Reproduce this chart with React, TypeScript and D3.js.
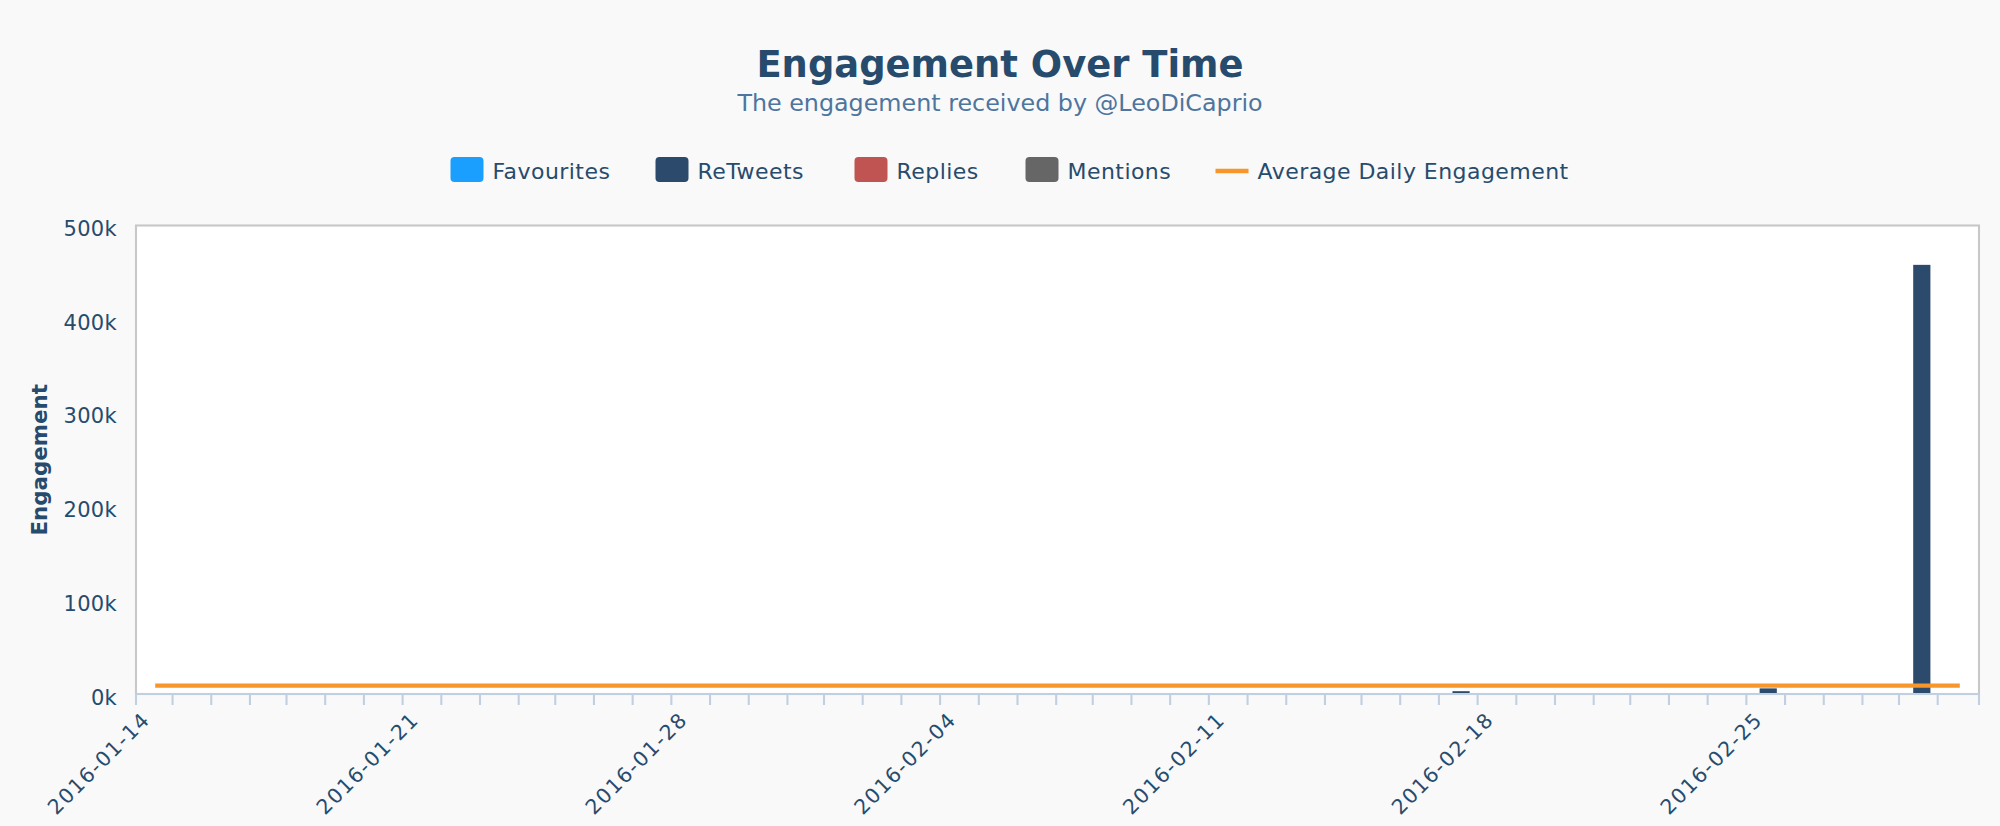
import React from 'react';
import * as d3 from 'd3';

const categories = [
  '2016-01-14', '2016-01-15', '2016-01-16', '2016-01-17', '2016-01-18', '2016-01-19', '2016-01-20', '2016-01-21',
  '2016-01-22', '2016-01-23', '2016-01-24', '2016-01-25', '2016-01-26', '2016-01-27', '2016-01-28', '2016-01-29',
  '2016-01-30', '2016-01-31', '2016-02-01', '2016-02-02', '2016-02-03', '2016-02-04', '2016-02-05', '2016-02-06',
  '2016-02-07', '2016-02-08', '2016-02-09', '2016-02-10', '2016-02-11', '2016-02-12', '2016-02-13', '2016-02-14',
  '2016-02-15', '2016-02-16', '2016-02-17', '2016-02-18', '2016-02-19', '2016-02-20', '2016-02-21', '2016-02-22',
  '2016-02-23', '2016-02-24', '2016-02-25', '2016-02-26', '2016-02-27', '2016-02-28', '2016-02-29', '2016-03-01',
];

const favourites = [
  0, 0, 0, 0, 0, 0, 0, 0, 0, 0, 0, 0, 0, 0, 0, 0, 0, 0, 0, 0, 0, 0, 0, 0,
  0, 0, 0, 0, 0, 0, 0, 0, 0, 0, 0, 0, 0, 0, 0, 0, 0, 0, 0, 0, 0, 0, 0, 0,
];
const retweets = [
  0, 0, 0, 0, 0, 0, 0, 0, 0, 0, 0, 0, 0, 0, 0, 0, 0, 0, 0, 0, 0, 0, 0, 0,
  0, 0, 0, 0, 0, 0, 0, 0, 0, 0, 3000, 0, 0, 0, 0, 0, 0, 0, 6000, 0, 0, 0, 458000, 0,
];
const replies = [
  0, 0, 0, 0, 0, 0, 0, 0, 0, 0, 0, 0, 0, 0, 0, 0, 0, 0, 0, 0, 0, 0, 0, 0,
  0, 0, 0, 0, 0, 0, 0, 0, 0, 0, 0, 0, 0, 0, 0, 0, 0, 0, 0, 0, 0, 0, 0, 0,
];
const mentions = [
  0, 0, 0, 0, 0, 0, 0, 0, 0, 0, 0, 0, 0, 0, 0, 0, 0, 0, 0, 0, 0, 0, 0, 0,
  0, 0, 0, 0, 0, 0, 0, 0, 0, 0, 0, 0, 0, 0, 0, 0, 0, 0, 0, 0, 0, 0, 0, 0,
];
const averageDaily = 8900;

const seriesNames = ['Favourites', 'ReTweets', 'Replies', 'Mentions'];
const seriesColors = ['#1a9fff', '#2c4a6b', '#c05452', '#666666'];
const lineName = 'Average Daily Engagement';
const lineColor = '#f7962b';
const yTicks = [0, 100000, 200000, 300000, 400000, 500000];

const rows = categories.map((date, i) => ({
  date,
  Favourites: favourites[i],
  ReTweets: retweets[i],
  Replies: replies[i],
  Mentions: mentions[i],
}));

const width = 2000;
const height = 826;
const left = 136;
const right = 1979;
const top = 225.5;
const bottom = 694;
const barWidth = 17.2;
const font = '"DejaVu Sans", sans-serif';
const labelColor = '#274b6d';

// the source chart was 2.15x upscaled, so its ticks sit on whole source pixels
const sourceScale = 2.15;

// legend swatch left edges, in the order of the series and then the line
const legendX = [450.5, 655.5, 854.5, 1025.5, 1215.5];
const legendFont = { fontSize: 22, letterSpacing: 0.45, fill: labelColor };

export default function App() {
  const x = d3.scaleBand<string>().domain(categories).range([left, right]);
  const y = d3.scaleLinear().domain([0, 500000]).range([bottom, top]);
  const stack = d3.stack<any>().keys(seriesNames)(rows);

  const step = x.step();
  const tickPositions = d3.range(categories.length + 1).map((i) => {
    if (i === 0 || i === categories.length) return left + i * step;
    return left + Math.floor((i * step) / sourceScale - 0.5) * sourceScale;
  });

  const avgLine = d3
    .line<string>()
    .x((d) => (x(d) as number) + step / 2)
    .y(() => y(averageDaily));

  return (
    <svg
      width={width}
      height={height}
      style={{ position: 'absolute', left: 0, top: 0, display: 'block' }}
      fontFamily={font}
    >
      <rect width={width} height={height} fill="#f9f9f9" />

      <text x={1000} y={77} textAnchor="middle" fontSize={36.9} fontWeight="bold" fill={labelColor}>
        Engagement Over Time
      </text>
      <text x={1000} y={111} textAnchor="middle" fontSize={23.8} fill="#4d759e">
        The engagement received by @LeoDiCaprio
      </text>

      {seriesNames.map((name, i) => (
        <g key={name}>
          <rect x={legendX[i]} y={157} width={33} height={25} rx={4} fill={seriesColors[i]} />
          <text x={legendX[i] + 42} y={179} {...legendFont}>
            {name}
          </text>
        </g>
      ))}
      <line x1={legendX[4]} x2={legendX[4] + 33} y1={171} y2={171} stroke={lineColor} strokeWidth={4.3} />
      <text x={legendX[4] + 42} y={179} {...legendFont}>
        {lineName}
      </text>

      <rect x={left} y={top} width={right - left} height={bottom - top} fill="#fff" stroke="#c8c8c8" strokeWidth={2.1} />

      {stack.map((layer, i) => (
        <g key={layer.key} fill={seriesColors[i]}>
          {layer
            .filter((d) => d[1] > d[0])
            .map((d) => (
              <rect
                key={d.data.date}
                x={(x(d.data.date) as number) + (step - barWidth) / 2 + 0.4}
                y={y(d[1])}
                width={barWidth}
                height={y(d[0]) - y(d[1])}
              />
            ))}
        </g>
      ))}

      <path d={avgLine(categories) as string} fill="none" stroke={lineColor} strokeWidth={4.3} />

      <line x1={left} x2={right} y1={bottom} y2={bottom} stroke="#c0d0e0" strokeWidth={2.1} />
      {tickPositions.map((t, i) => (
        <line key={i} x1={t} x2={t} y1={bottom} y2={bottom + 11} stroke="#c0d0e0" strokeWidth={2.1} />
      ))}

      {categories.map((c, i) =>
        i % 7 === 0 ? (
          <text
            key={c}
            transform={`translate(${(x(c) as number) + step / 2 - 4},721) rotate(-45)`}
            textAnchor="end"
            fontSize={20.5}
            letterSpacing={1.5}
            fill={labelColor}
          >
            {c}
          </text>
        ) : null,
      )}

      {yTicks.map((t) => (
        <text key={t} x={117} y={y(t) + 10.5} textAnchor="end" fontSize={21} letterSpacing={0.3} fill={labelColor}>
          {`${t / 1000}k`}
        </text>
      ))}
      <text
        transform={`translate(47,${(top + bottom) / 2}) rotate(-90)`}
        textAnchor="middle"
        fontSize={21.4}
        fontWeight="bold"
        fill={labelColor}
      >
        Engagement
      </text>
    </svg>
  );
}
